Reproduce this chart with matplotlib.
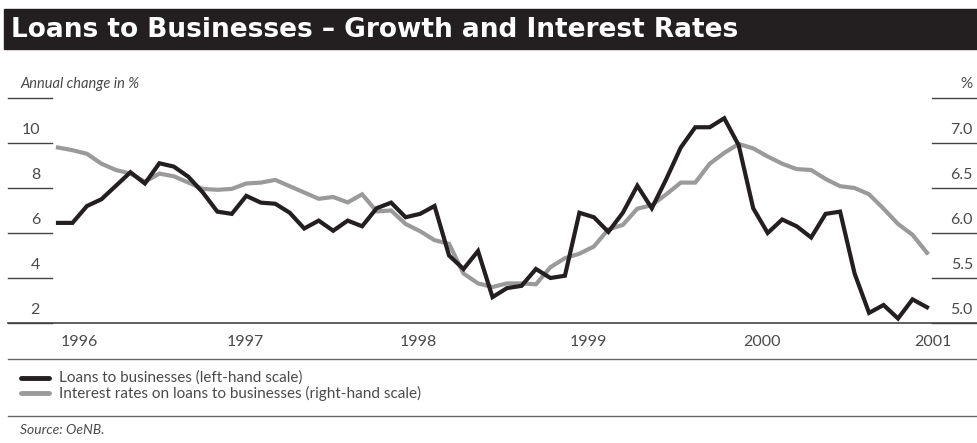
import matplotlib
matplotlib.use("Agg")
from matplotlib import pyplot as plt
from matplotlib.patches import Rectangle
from matplotlib.transforms import blended_transform_factory
import numpy as np

# monthly observations, Jan 1996 - Jan 2001
loans_growth = [6.45, 6.45, 7.2, 7.5, 8.1, 8.7, 8.2, 9.1, 8.95, 8.5, 7.8, 6.95,
                6.85, 7.65, 7.35, 7.3, 6.9, 6.2, 6.55, 6.1, 6.55, 6.3, 7.1, 7.35,
                6.7, 6.85, 7.2, 5.0, 4.4, 5.2, 3.15, 3.55, 3.65, 4.4, 4.0, 4.1,
                6.9, 6.7, 6.05, 6.9, 8.1, 7.1, 8.4, 9.8, 10.7, 10.7, 11.1, 9.9,
                7.1, 6.0, 6.6, 6.3, 5.8, 6.85, 6.95, 4.2, 2.45, 2.8, 2.2, 3.05, 2.7]

interest_rate = [6.95, 6.92, 6.88, 6.77, 6.70, 6.66, 6.57, 6.66, 6.63, 6.56, 6.49, 6.48,
                 6.49, 6.55, 6.56, 6.59, 6.52, 6.45, 6.38, 6.40, 6.34, 6.43, 6.24, 6.25,
                 6.10, 6.02, 5.92, 5.88, 5.55, 5.44, 5.40, 5.44, 5.44, 5.43, 5.62, 5.72,
                 5.77, 5.85, 6.04, 6.09, 6.27, 6.31, 6.43, 6.56, 6.56, 6.77, 6.89, 6.99,
                 6.94, 6.85, 6.77, 6.71, 6.70, 6.60, 6.52, 6.50, 6.43, 6.27, 6.10, 5.98, 5.78]

years = ["1996", "1997", "1998", "1999", "2000", "2001"]
year_pos = [1.5, 12.9, 24.9, 36.6, 48.6, 60.4]   # label positions in month index

left_ticks = [2, 4, 6, 8, 10]
right_ticks = [5.0, 5.5, 6.0, 6.5, 7.0]

W, H = 978, 443
BLACK = "#231f20"
GREY = "#9a9a9a"
TXT = "#4a4a4a"
FONT = "Lato"

def fx(px):
    return px / W

def fy(py):
    return 1 - py / H

fig = plt.figure(figsize=(W / 100, H / 100), dpi=100)

# title bar
fig.patches.append(Rectangle((fx(4), fy(49)), 1 - fx(4), (49 - 9) / H,
                             transform=fig.transFigure, color=BLACK, zorder=0))
fig.text(fx(11), fy(30), "Loans to Businesses \u2013 Growth and Interest Rates",
         color="white", fontsize=19, fontweight="bold", family="DejaVu Sans",
         va="center", ha="left")

ax = fig.add_axes([fx(8), fy(323), 1 - fx(8), (323 - 98) / H])
ax2 = ax.twinx()

x = np.arange(len(loans_growth))
ax.plot(x, loans_growth, color=BLACK, lw=3.0, solid_joinstyle="miter", zorder=3)
ax2.plot(x, interest_rate, color=GREY, lw=3.0, solid_joinstyle="miter", zorder=2)
ax.set_zorder(ax2.get_zorder() + 1)
ax.patch.set_visible(False)

ppx = (927 - 58) / (len(x) - 1)
ax.set_xlim(-(58 - 8) / ppx, len(x) - 1 + (978 - 927) / ppx)
ax.set_ylim(2, 12)
ax2.set_ylim(5.0, 7.5)

for a in (ax, ax2):
    for s in a.spines.values():
        s.set_visible(False)
    a.set_xticks([])
    a.set_yticks([])

# short tick rules and labels
axw = 978 - 8
for v in left_ticks + [12]:
    ax.plot([0, (52 - 8) / axw], [v, v], transform=ax.get_yaxis_transform(),
            color="#444444", lw=1.0, clip_on=False)
for v in left_ticks:
    ax.annotate(f"{v}", xy=((40 - 8) / axw, v),
                xycoords=("axes fraction", "data"), xytext=(0, 4),
                textcoords="offset points", ha="right", va="bottom",
                fontsize=11.5, color=TXT, family=FONT)
for v in right_ticks + [7.5]:
    ax2.plot([(932 - 8) / axw, 1], [v, v], transform=ax2.get_yaxis_transform(),
             color="#444444", lw=1.0, clip_on=False)
for v in right_ticks:
    ax2.annotate(f"{v:.1f}", xy=((973 - 8) / axw, v),
                 xycoords=("axes fraction", "data"), xytext=(0, 4),
                 textcoords="offset points", ha="right", va="bottom",
                 fontsize=11.5, color=TXT, family=FONT)

# bottom axis line
ax.axhline(2, color="#444444", lw=1.2, clip_on=False)

yr_trans = blended_transform_factory(ax.transData, fig.transFigure)
for pos, lab in zip(year_pos, years):
    ax.text(pos, fy(342), lab, transform=yr_trans, ha="center", va="center",
            fontsize=11.5, color=TXT, family=FONT)

fig.text(fx(20), fy(84), "Annual change in %", fontsize=10.5, style="italic",
         color=TXT, family=FONT, va="center", ha="left")
fig.text(fx(973), fy(84), "%", fontsize=11, color=TXT, family=FONT,
         va="center", ha="right")

# separator rules
for py in (359, 416):
    fig.add_artist(plt.Line2D([fx(8), 1], [fy(py), fy(py)], color="#666666", lw=1.0))

# legend
legend_rows = [("Loans to businesses (left-hand scale)", BLACK),
               ("Interest rates on loans to businesses (right-hand scale)", GREY)]
for i, (lab, col) in enumerate(legend_rows):
    yy = fy(378 + 15 * i)
    fig.add_artist(plt.Line2D([fx(21), fx(49)], [yy, yy], color=col, lw=3.5,
                              solid_capstyle="round"))
    fig.text(fx(59), yy, lab, fontsize=11, color=TXT, family=FONT,
             va="center", ha="left")

fig.text(fx(20), fy(430), "Source: OeNB.", fontsize=10, style="italic",
         color=TXT, family=FONT, va="center", ha="left")

fig.savefig("out.png", dpi=100)
